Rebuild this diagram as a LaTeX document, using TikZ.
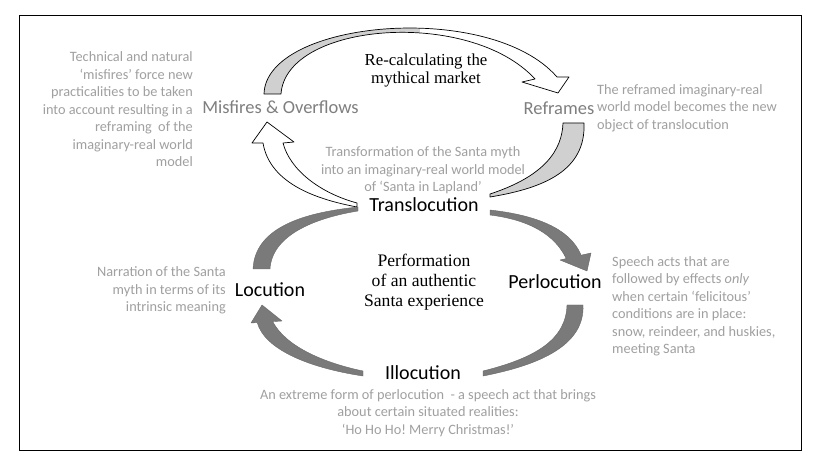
\documentclass[tikz,border=0pt]{standalone}
\usepackage{fontspec}
\setmainfont{Carlito}
\newfontfamily\serifbook{Liberation Serif}
\definecolor{notegray}{HTML}{A0A0A0}
\definecolor{midgray}{HTML}{7F7F7F}
\definecolor{arrowgray}{HTML}{7A7A7A}
\definecolor{bandgray}{HTML}{D0D0D0}
\frenchspacing
\begin{document}
\begin{tikzpicture}[x=1bp,y=-1bp,
  lbl/.style={inner sep=0pt, font=\fontsize{20bp}{24bp}\selectfont, text=black},
  midlbl/.style={inner sep=0pt, font=\fontsize{18.5bp}{22bp}\selectfont, text=midgray},
  note/.style={inner sep=0pt, font=\fontsize{14.3bp}{17.5bp}\selectfont, text=notegray},
  serifnote/.style={inner sep=0pt, font=\serifbook\fontsize{16.8bp}{17.5bp}\selectfont, align=center, text=black},
  darkarrow/.style={fill=arrowgray, draw=arrowgray!85!black, line width=0.4bp, line join=round},
  whitearrow/.style={fill=white, draw=black, line width=0.7bp, line join=round},
  bandarrow/.style={fill=bandgray, draw=black, line width=0.7bp, line join=round}]
\useasboundingbox (0,0) rectangle (819,464);
\fill[white] (0,0) rectangle (819,464);
\draw[line width=1bp] (19,16) rectangle (801,450);

% upper cycle
\path[whitearrow, path picture={\fill[bandgray] (0,0) rectangle (420,100);}]
  (264,94) .. controls (266,20) and (490,0) .. (557,77) -- (569,77) -- (558,93)
  -- (522,82) -- (535,79) .. controls (470,8) and (286,22) .. (281,94) -- cycle;
\path[bandarrow] (563,123) -- (584,123) .. controls (586,170) and (545,188) .. (490,197)
  -- (490,194) .. controls (545,176) and (562,150) .. (563,123) -- cycle;
\path[whitearrow] (357,207) .. controls (320,200) and (270,185) .. (263,143) -- (252,143)
  -- (267,122) -- (294,142) -- (283,143) .. controls (290,170) and (320,193) .. (357,203) -- cycle;

% lower cycle
\path[darkarrow] (253,269) .. controls (255,225) and (310,212) .. (358,207) -- (358,211)
  .. controls (315,218) and (272,235) .. (270,269) -- cycle;
\path[darkarrow] (490,210) .. controls (535,215) and (570,228) .. (581.1,255.2) -- (591,253)
  -- (587,271) -- (560,260) -- (566.2,258.6) .. controls (555,235) and (530,220) .. (490,215) -- cycle;
\path[darkarrow] (567,305) -- (583,305) .. controls (585,345) and (540,365) .. (483,376) -- (483,371)
  .. controls (535,358) and (566,340) .. (567,305) -- cycle;
\path[darkarrow] (363,376) .. controls (310,368) and (265,350) .. (257.2,322.6) -- (251,323)
  -- (262,305) -- (282,321) -- (272.7,321.6) .. controls (285,345) and (320,362) .. (363,371) -- cycle;

% labels
\node[midlbl] (misfires) at (280.5,107) {Misfires \& Overflows};
\node[midlbl] (reframes) at (559,108) {Reframes};
\node[lbl] (transloc) at (424,205) {Translocution};
\node[lbl] (loc) at (270,290) {Locution};
\node[lbl] (perloc) at (555,282) {Perlocution};
\node[lbl] (illoc) at (423,373) {Illocution};

\node[serifnote] (recalc) at (426,70.5) {Re-calculating the\\mythical market};
\node[serifnote, font=\serifbook\fontsize{17.6bp}{20bp}\selectfont] (perf) at (424,282) {Performation\\of an authentic\\Santa experience};

% notes
\node[note, anchor=east, align=right] (misnote) at (193,109.5) {Technical and natural\\‘misfires’ force new\\practicalities to be taken\\into account resulting in a\\reframing\ \ of the\\imaginary-real world\\model};
\node[note, anchor=east, align=right] (locnote) at (226,290.5) {Narration of the Santa\\myth in terms of its\\intrinsic meaning};
\node[note, align=center] (transnote) at (423,170.5) {Transformation of the Santa myth\\into an imaginary-real world model\\of ‘Santa in Lapland’};
\node[note, anchor=west, align=left] (refnote) at (597,108) {The reframed imaginary-real\\world model becomes the new\\object of translocution};
\node[note, anchor=west, align=left] (perlnote) at (612,306.5) {Speech acts that are\\followed by effects \emph{only}\\when certain ‘felicitous’\\conditions are in place:\\snow, reindeer, and huskies,\\meeting Santa};
\node[note, align=center] (illnote) at (428,413) {An extreme form of perlocution\ \ - a speech act that brings\\about certain situated realities:\\‘Ho Ho Ho! Merry Christmas!’};
\end{tikzpicture}
\end{document}
